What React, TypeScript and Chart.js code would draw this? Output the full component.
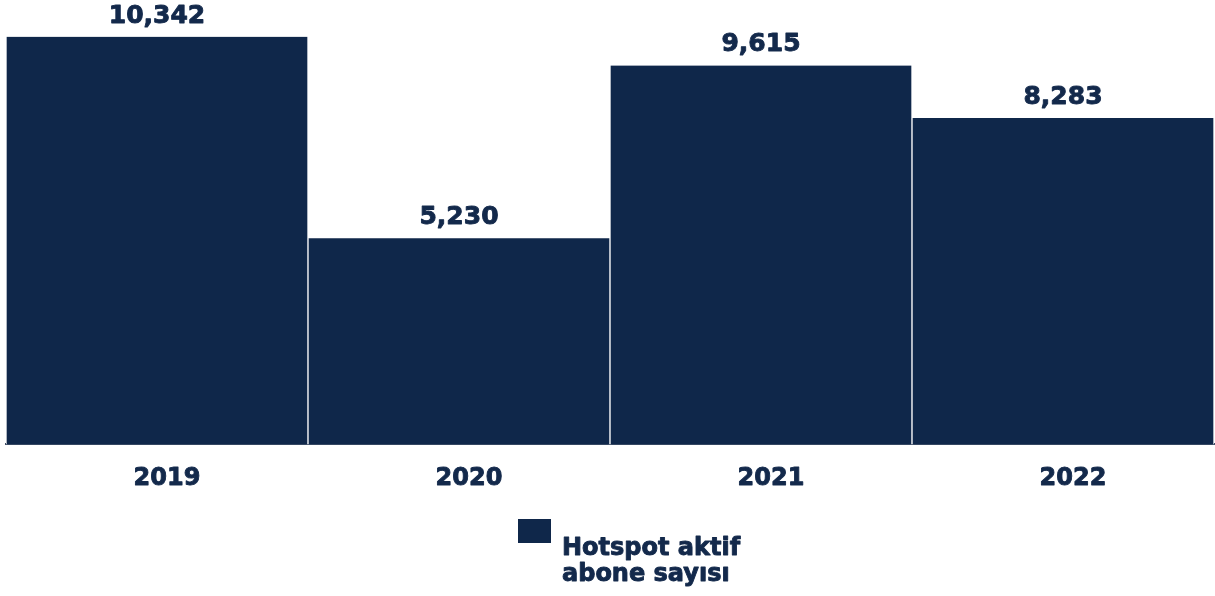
import React, { useEffect, useRef } from "react";
import { Chart, registerables } from "chart.js";

Chart.register(...registerables);

const categories = ["2019", "2020", "2021", "2022"];
const subscribers = [10342, 5230, 9615, 8283];
const seriesLabelLines = ["Hotspot aktif", "abone sayısı"];

const NAVY = "#0f274a";
const TEXT = "#13294b";
const FONT = "'DejaVu Sans', Verdana, sans-serif";

function heavyText(ctx: CanvasRenderingContext2D, text: string, x: number, y: number, w = 0.9) {
  ctx.lineWidth = w;
  ctx.lineJoin = "round";
  ctx.strokeStyle = TEXT;
  ctx.strokeText(text, x, y);
  ctx.fillText(text, x, y);
}

const valueLabels = {
  id: "valueLabels",
  afterDatasetsDraw(chart: any) {
    const ctx = chart.ctx;
    const meta = chart.getDatasetMeta(0);
    ctx.save();
    ctx.fillStyle = TEXT;
    ctx.font = `bold 25px ${FONT}`;
    ctx.textAlign = "center";
    ctx.textBaseline = "alphabetic";
    meta.data.forEach((bar: any, i: number) => {
      const v = chart.data.datasets[0].data[i] as number;
      heavyText(ctx, v.toLocaleString("en-US"), bar.x, bar.y - 14);
    });
    // category labels
    const xs = chart.scales.x;
    ctx.font = `bold 24px ${FONT}`;
    ctx.textBaseline = "middle";
    chart.data.labels.forEach((lab: string, i: number) => {
      heavyText(ctx, lab, xs.getPixelForValue(i) + 10, chart.chartArea.bottom + 34);
    });
    ctx.restore();
  },
};

const customLegend = {
  id: "customLegend",
  afterDraw(chart: any) {
    const ctx = chart.ctx;
    const ds = chart.data.datasets[0];
    const cx = (chart.chartArea.left + chart.chartArea.right) / 2;
    const boxX = cx - 92;
    const boxY = 519;
    ctx.save();
    ctx.fillStyle = ds.backgroundColor;
    ctx.fillRect(boxX, boxY, 33, 24);
    ctx.fillStyle = TEXT;
    ctx.font = `bold 24px ${FONT}`;
    ctx.textAlign = "left";
    ctx.textBaseline = "alphabetic";
    seriesLabelLines.forEach((line, i) => {
      heavyText(ctx, line, boxX + 44, 555 + i * 26);
    });
    ctx.restore();
  },
};

export default function App() {
  const ref = useRef<HTMLCanvasElement>(null);
  useEffect(() => {
    document.body.style.margin = "0";
    const chart = new Chart(ref.current!, {
      type: "bar",
      data: {
        labels: categories,
        datasets: [
          {
            label: seriesLabelLines.join(" "),
            data: subscribers,
            backgroundColor: NAVY,
            borderColor: "#ffffff",
            borderWidth: { left: 1, right: 1, top: 0, bottom: 0 },
            borderSkipped: false,
            categoryPercentage: 1,
            barPercentage: 1,
          },
        ],
      },
      options: {
        animation: false,
        responsive: false,
        layout: { padding: { left: 6, right: 1, top: 3, bottom: 88 } },
        plugins: {
          legend: { display: false },
          tooltip: { enabled: false },
        },
        scales: {
          x: {
            grid: { display: false },
            border: { display: true, color: "#3f4f68", width: 2 },
            ticks: {
              color: "rgba(0,0,0,0)",
              font: { family: FONT, size: 23, weight: "bold" },
              padding: 14,
            },
          },
          y: { display: false, min: 0, max: 11200 },
        },
      },
      plugins: [valueLabels, customLegend],
    });
    return () => chart.destroy();
  }, []);
  return (
    <div style={{ width: 1215, height: 596 }}>
      <canvas ref={ref} width={1215} height={596} style={{ display: "block" }} />
    </div>
  );
}
